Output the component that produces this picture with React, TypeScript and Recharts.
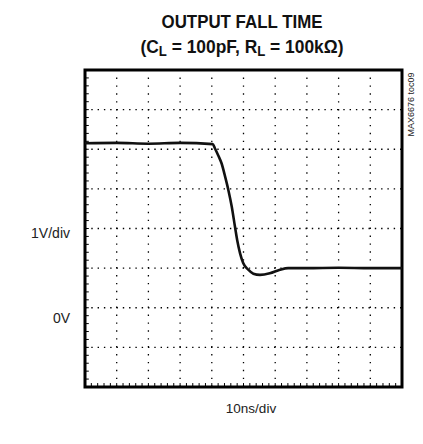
import { LineChart, Line, XAxis, YAxis, ReferenceLine, ReferenceArea } from 'recharts';

// time axis in divisions (10ns/div), output in divisions (1V/div)
const timeDiv = [0, 1, 2, 3, 4.03, 4.1, 4.2, 4.31, 4.42, 4.52, 4.63, 4.73, 4.8, 4.89, 4.99, 5.15, 5.31, 5.52, 5.83, 6.15, 6.41, 7, 8, 9, 10];
const outDiv = [6.15, 6.16, 6.14, 6.16, 6.13, 6.02, 5.85, 5.64, 5.31, 4.98, 4.55, 4.05, 3.71, 3.38, 3.13, 2.96, 2.86, 2.83, 2.87, 2.96, 3.0, 3.0, 3.01, 3.0, 3.0];

const xGrid = [1, 2, 3, 4, 5, 6, 7, 8, 9];
const yGrid = [1, 2, 3, 4, 5, 6, 7];
const xMinor = Array.from({ length: 49 }, (_, i) => (i + 1) * 0.2);
const yMinor = Array.from({ length: 39 }, (_, i) => (i + 1) * 0.2);

const data = timeDiv.map((t, i) => ({ t, v: outDiv[i] }));

const W = 423;
const H = 444;
const font = "'Liberation Sans', Arial, sans-serif";

export default function App() {
  return (
    <div style={{ position: 'absolute', left: 0, top: 0, width: W, height: H, background: '#fff' }}>
      <LineChart width={W} height={H} data={data} margin={{ top: 70, left: 85, right: 21, bottom: 57 }}>
        <XAxis dataKey="t" type="number" domain={[0, 10]} hide />
        <YAxis type="number" domain={[0, 8]} hide />
        {xGrid.map((x) => (
          <ReferenceLine key={'x' + x} x={x} stroke="#000" strokeWidth={1.3} strokeDasharray="1.4 6.5" />
        ))}
        {yGrid.map((y) => (
          <ReferenceLine key={'y' + y} y={y} stroke="#000" strokeWidth={1.3} strokeDasharray="1.4 4.9" />
        ))}
        {yMinor.map((y) => (
          <ReferenceLine key={'ly' + y} segment={[{ x: 0, y }, { x: 0.12, y }]} stroke="#000" strokeWidth={1} />
        ))}
        {xMinor.map((x) => (
          <ReferenceLine key={'bx' + x} segment={[{ x, y: 0 }, { x, y: 0.1 }]} stroke="#000" strokeWidth={1} />
        ))}
        <Line
          type="monotone"
          dataKey="v"
          stroke="#111"
          strokeWidth={2.6}
          dot={false}
          isAnimationActive={false}
        />
        <ReferenceArea x1={0} x2={10} y1={0} y2={8} fill="none" stroke="#000" strokeWidth={3} ifOverflow="visible" />
      </LineChart>
      <svg width={W} height={H} style={{ position: 'absolute', left: 0, top: 0, pointerEvents: 'none' }}>
        <text
          x={242}
          y={28}
          textAnchor="middle"
          fontFamily={font}
          fontWeight="bold"
          fontSize={18.5}
          textLength={161}
          lengthAdjust="spacingAndGlyphs"
          fill="#111"
        >
          OUTPUT FALL TIME
        </text>
        <text
          x={242}
          y={53}
          textAnchor="middle"
          fontFamily={font}
          fontWeight="bold"
          fontSize={18.5}
          textLength={203}
          lengthAdjust="spacingAndGlyphs"
          fill="#111"
        >
          (C<tspan fontSize={14} dy={3}>L</tspan>
          <tspan dy={-3}> = 100pF, R</tspan>
          <tspan fontSize={14} dy={3}>L</tspan>
          <tspan dy={-3}> = 100kΩ)</tspan>
        </text>
        <text x={70} y={238} textAnchor="end" fontFamily={font} fontSize={14} fill="#222">
          1V/div
        </text>
        <text x={70} y={323} textAnchor="end" fontFamily={font} fontSize={14} fill="#222">
          0V
        </text>
        <text x={251} y={413} textAnchor="middle" fontFamily={font} fontSize={13.5} fill="#222">
          10ns/div
        </text>
        <text
          x={0}
          y={0}
          transform="translate(414,104.5) rotate(-90)"
          textAnchor="middle"
          fontFamily={font}
          fontSize={9}
          fill="#222"
        >
          MAX6676 toc09
        </text>
      </svg>
    </div>
  );
}
